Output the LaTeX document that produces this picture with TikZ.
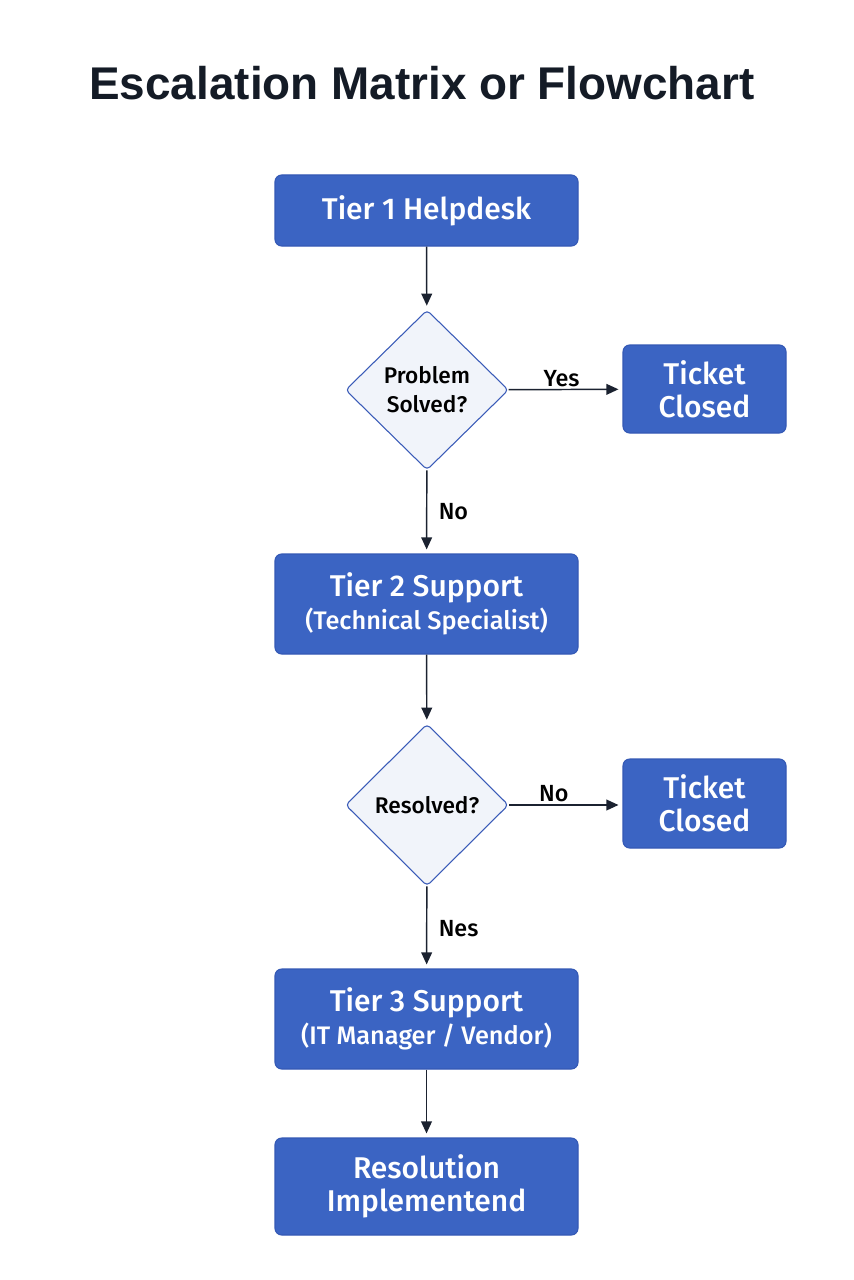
\documentclass[tikz,border=0pt]{standalone}
\usepackage{fontspec}
\setmainfont{Liberation Sans}
\newfontfamily\medfont{Fira Sans}[UprightFont=* Medium]
\usetikzlibrary{shapes.geometric,arrows.meta}
\definecolor{boxblue}{HTML}{3B64C3}
\definecolor{boxedge}{HTML}{3459B5}
\definecolor{diafill}{HTML}{F1F4FA}
\definecolor{diaedge}{HTML}{3A5BB8}
\definecolor{inkdark}{HTML}{1B2230}
\definecolor{titleink}{HTML}{141B26}
\newcommand{\subline}{\fontsize{19}{24.5}\selectfont}
\begin{document}
\begin{tikzpicture}[x=0.75pt,y=-0.75pt,
  bluebox/.style={draw=boxedge,line width=0.8pt,fill=boxblue,rounded corners=5pt,
    text=white,align=center,inner sep=2pt,minimum width=227.25pt,
    font=\medfont\fontsize{22.5}{24.5}\selectfont},
  smallbox/.style={bluebox,minimum width=122.25pt,minimum height=66pt},
  decision/.style={diamond,draw=diaedge,line width=0.8pt,fill=diafill,
    rounded corners=3pt,minimum width=122.25pt,minimum height=120pt,inner sep=0pt,
    align=center,text=black,font=\medfont\fontsize{17}{21.75}\selectfont},
  flow/.style={draw=inkdark,line width=1.1pt,-{Triangle[length=9pt,width=8pt]},shorten >=3pt},
  lbl/.style={text=black,font=\medfont\fontsize{17.5}{21}\selectfont,inner sep=1.5pt}]
\useasboundingbox[fill=white] (0,0) rectangle (853,1280);

\node[text=titleink,font=\fontsize{34.4}{40}\selectfont\bfseries,anchor=base] (title) at (422,100) {Escalation Matrix or Flowchart};

\node[bluebox,minimum height=53.25pt] (t1) at (426.5,210.5) {Tier 1 Helpdesk};
\node[decision] (d1) at (427,390) {Problem\\Solved?};
\node[smallbox] (c1) at (704.5,389) {Ticket\\Closed};
\node[bluebox,minimum height=75pt] (t2) at (426.5,604) {Tier 2 Support\\\subline (Technical Specialist)};
\node[decision,minimum height=121.5pt] (d2) at (427,805) {Resolved?};
\node[smallbox,minimum height=66.75pt] (c2) at (704.5,803.5) {Ticket\\Closed};
\node[bluebox,minimum height=75pt] (t3) at (426.5,1019) {Tier 3 Support\\\subline (IT Manager / Vendor)};
\node[bluebox,minimum height=72.75pt] (t4) at (426.5,1186.5) {Resolution\\Implementend};

\draw[flow] (t1) -- (d1);
\draw[flow] (d1) -- node[lbl,above,xshift=-3pt] {Yes} (c1);
\draw[flow] (d1) -- node[lbl,right,xshift=7pt] {No} (t2);
\draw[flow] (t2) -- (d2);
\draw[flow] (d2.east) -- node[lbl,above,xshift=-9pt] {No} (c2.west |- d2.east);
\draw[flow] (d2) -- node[lbl,right,xshift=7pt,yshift=-1pt] {Nes} (t3);
\draw[flow] (t3) -- (t4);
\end{tikzpicture}
\end{document}
